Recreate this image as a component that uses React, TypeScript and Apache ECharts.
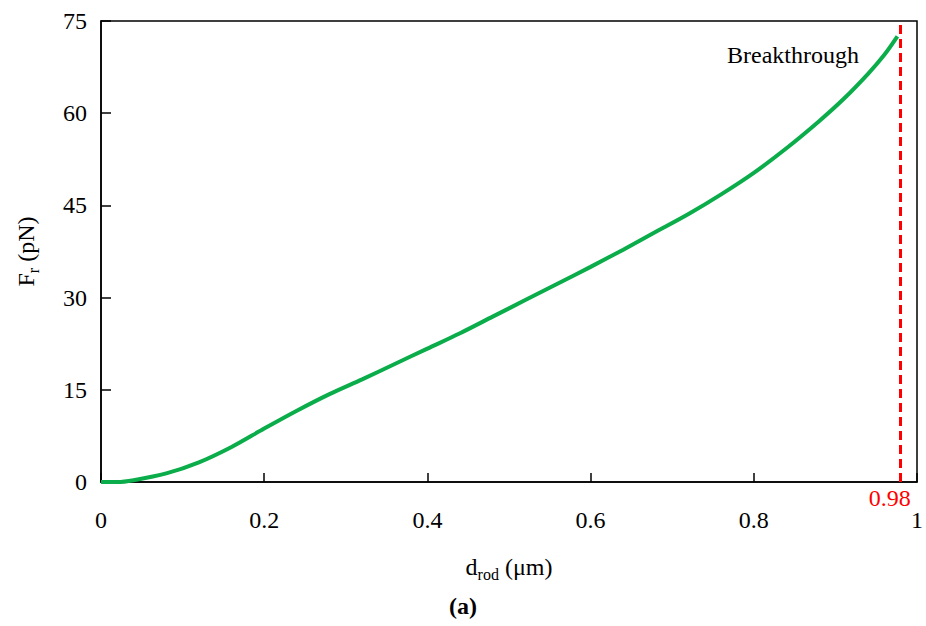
import React, { useEffect, useRef } from "react";
import * as echarts from "echarts";

const dRod = [0, 0.02, 0.04, 0.08, 0.12, 0.16, 0.2, 0.24, 0.28, 0.32, 0.36, 0.4, 0.44, 0.48, 0.52, 0.56, 0.6, 0.64, 0.68, 0.72, 0.76, 0.8, 0.84, 0.88, 0.91, 0.94, 0.96, 0.976];
const force = [0, 0, 0.3, 1.4, 3.2, 5.7, 8.7, 11.6, 14.3, 16.7, 19.2, 21.7, 24.2, 26.9, 29.6, 32.3, 35.0, 37.8, 40.7, 43.6, 46.8, 50.3, 54.3, 58.7, 62.3, 66.4, 69.5, 72.5];
const breakthroughX = 0.98;
const breakthroughLabel = "0.98";
const annotation = "Breakthrough";
const panelLabel = "(a)";

const FONT = "Liberation Serif";
const FS = 24;

export default function App() {
  const ref = useRef<HTMLDivElement>(null);
  useEffect(() => {
    if (!ref.current) return;
    const chart = echarts.init(ref.current, null, { renderer: "svg" });
    const data = dRod.map((d, i) => [d, force[i]]);
    chart.setOption({
      animation: false,
      backgroundColor: "#fff",
      textStyle: { fontFamily: FONT },
      grid: {
        left: 101,
        top: 21,
        width: 817,
        height: 461,
        show: true,
        borderColor: "#000",
        borderWidth: 1.5,
        backgroundColor: "transparent",
      },
      xAxis: {
        type: "value",
        min: 0,
        max: 1,
        interval: 0.2,
        axisLine: { show: true, onZero: false, lineStyle: { color: "#000", width: 1.5 } },
        axisTick: { show: true, inside: true, length: 9, lineStyle: { color: "#000", width: 1.5 } },
        axisLabel: { color: "#000", fontSize: FS, fontFamily: FONT, margin: 26 },
        splitLine: { show: false },
        name: "{a|d}{b|rod}{a| (μm)}",
        nameLocation: "middle",
        nameGap: 70,
        nameTextStyle: {
          rich: {
            a: { fontSize: FS, fontFamily: FONT, color: "#000" },
            b: { fontSize: 16, fontFamily: FONT, color: "#000", verticalAlign: "bottom", padding: [14, 0, 0, 0] },
          },
        },
      },
      yAxis: {
        type: "value",
        min: 0,
        max: 75,
        interval: 15,
        axisLine: { show: true, onZero: false, lineStyle: { color: "#000", width: 1.5 } },
        axisTick: { show: true, inside: true, length: 10, lineStyle: { color: "#000", width: 1.5 } },
        axisLabel: { color: "#000", fontSize: FS, fontFamily: FONT, margin: 14 },
        splitLine: { show: false },
        name: "{a|F}{b|r}{a| (pN)}",
        nameLocation: "middle",
        nameGap: 60,
        nameTextStyle: {
          rich: {
            a: { fontSize: FS, fontFamily: FONT, color: "#000" },
            b: { fontSize: 16, fontFamily: FONT, color: "#000", verticalAlign: "bottom", padding: [14, 0, 0, 0] },
          },
        },
      },
      series: [
        {
          type: "line",
          data,
          smooth: 0.3,
          showSymbol: false,
          symbol: "none",
          lineStyle: { color: "#0aad4a", width: 4 },
          markLine: {
            silent: true,
            symbol: "none",
            lineStyle: { color: "#ff0000", width: 3, type: [9, 5] },
            label: {
              show: true,
              position: "start",
              formatter: breakthroughLabel,
              color: "#ff0000",
              fontSize: FS,
              fontFamily: FONT,
              distance: 4,
              padding: [0, 22, 0, 0],
            },
            data: [{ xAxis: breakthroughX }],
          },
        },
      ],
      graphic: [
        {
          type: "text",
          left: 727,
          top: 43,
          style: { text: annotation, fontSize: FS, fontFamily: FONT, fill: "#000" },
        },
        {
          type: "text",
          left: "center",
          top: 594,
          style: { text: panelLabel, fontSize: FS, fontWeight: "bold", fontFamily: FONT, fill: "#000" },
        },
      ],
    });
    return () => chart.dispose();
  }, []);
  return (
    <div
      ref={ref}
      style={{ position: "fixed", left: 0, top: 0, width: 926, height: 626, background: "#fff" }}
    />
  );
}
